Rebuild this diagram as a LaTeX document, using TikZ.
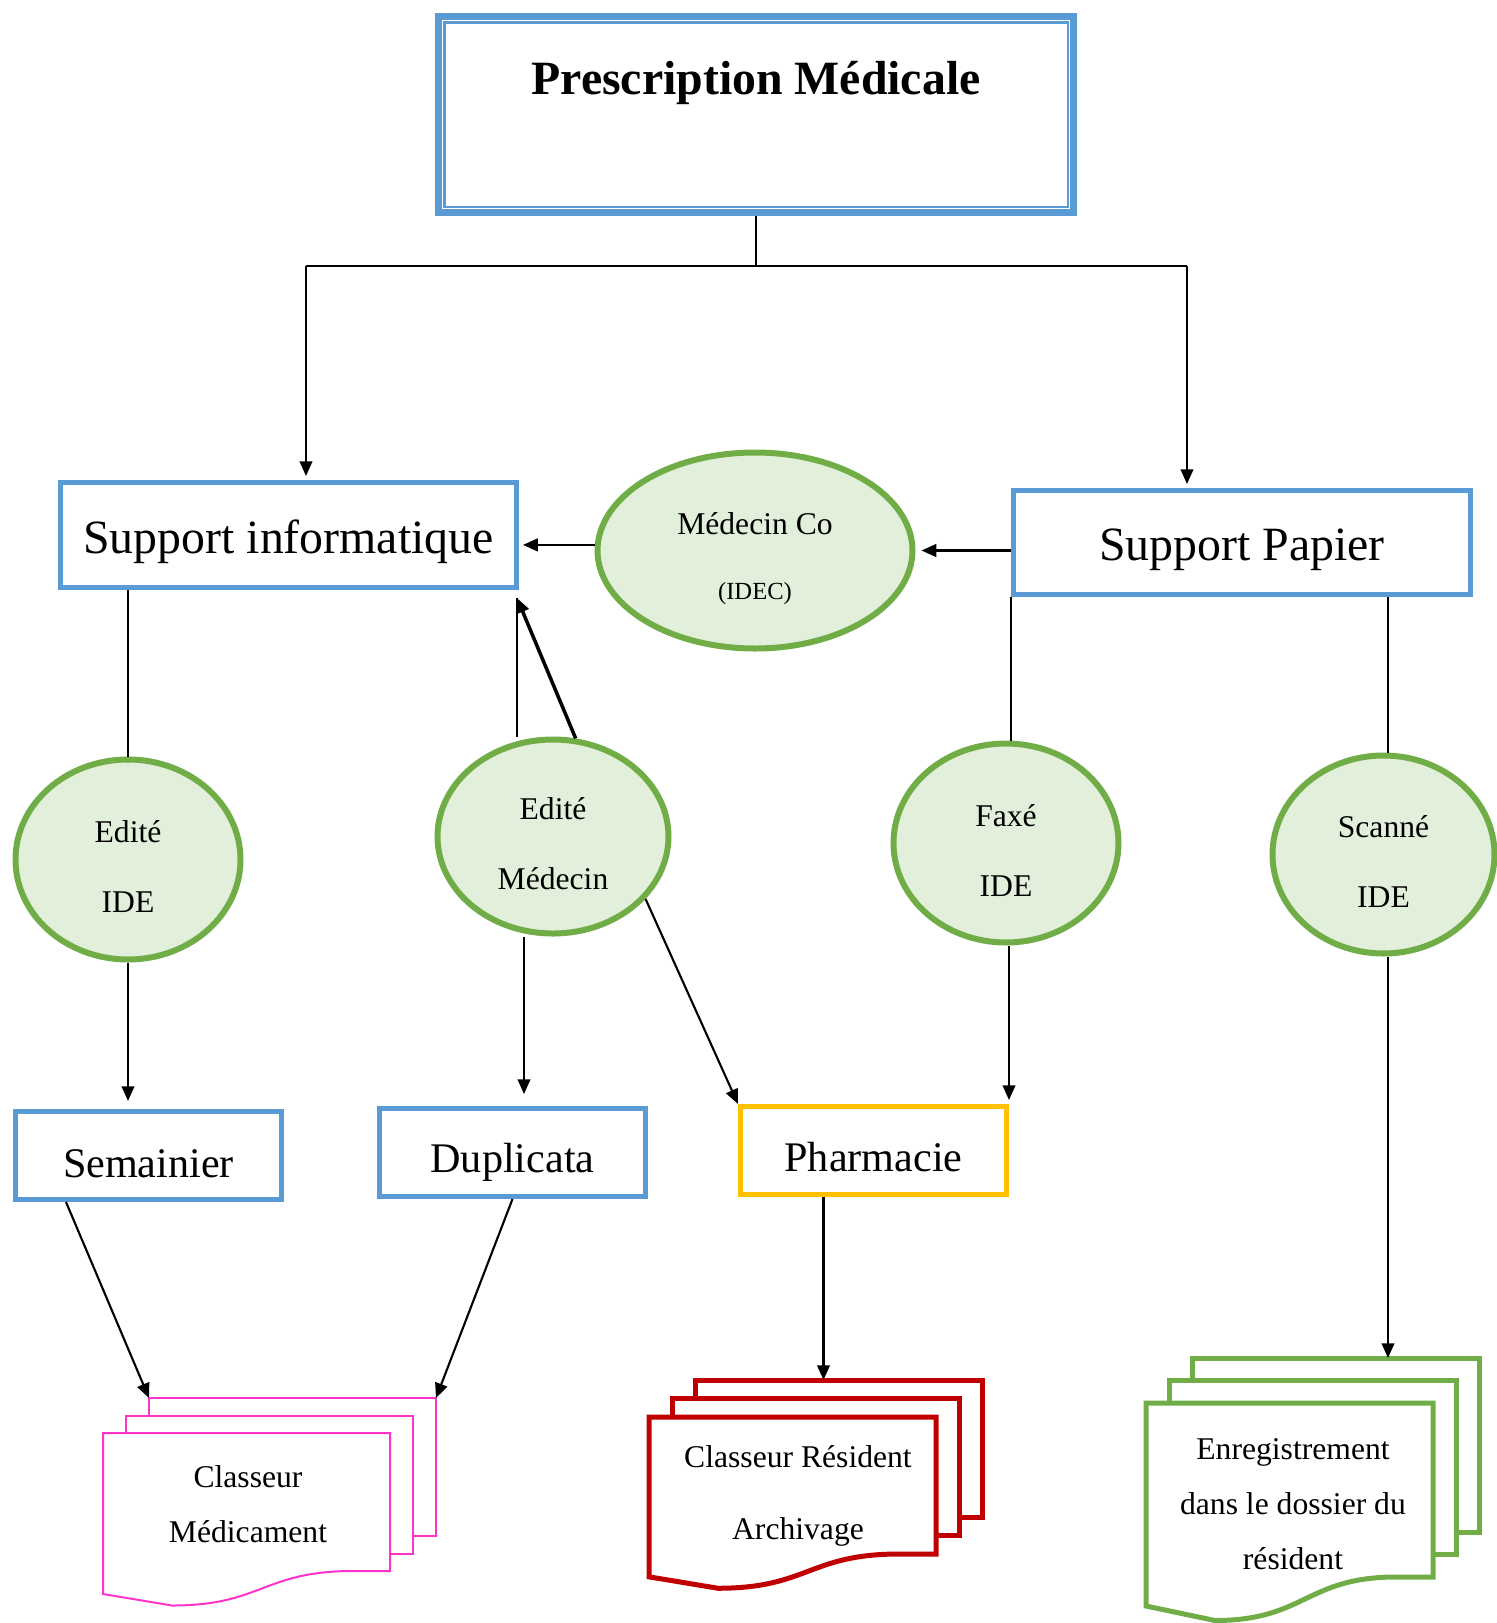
\documentclass[tikz,border=0pt]{standalone}
\usepackage{fontspec}
\setmainfont{Liberation Serif}
\usetikzlibrary{shapes.geometric,arrows.meta}

\definecolor{boxblue}{HTML}{5B9BD5}
\definecolor{ovalgreen}{HTML}{70AD47}
\definecolor{ovalfill}{HTML}{E2EFDA}
\definecolor{pharmgold}{HTML}{FFC000}
\definecolor{docred}{HTML}{C00000}
\definecolor{docpink}{HTML}{FF33CC}

\newcommand{\up}[1]{\rule{0pt}{#1}}

\newcommand{\pagestack}[6]{%
\draw[#2,fill=white] (#3+46,#4-2*#6) coordinate (#1-nw) -- ++(287,0) coordinate (#1-ne) -- ++(0,#5) -- ++(-287,0) -- cycle;
\draw[#2,fill=white] (#3+23,#4-#6) rectangle ++(287,#5);
\draw[#2,fill=white] (#3,#4) -- ++(287,0) -- ++(0,#5) -- ++(-37,0)
  .. controls +(-90,0) and +(90,0) .. (#3+69,#4+#5+#5/4) -- (#3,#4+#5+#5/6) -- cycle;
}

\begin{document}
\begin{tikzpicture}[x=0.1mm, y=-0.1mm, line width=0.6pt,
  >={Triangle[length=4.2pt,width=3.6pt]},
  bluebox/.style={draw=boxblue, line width=0.5mm, inner sep=0pt},
  bigtext/.style={font=\fontsize{13.6}{16}\selectfont},
  smalltext/.style={font=\fontsize{12}{14}\selectfont},
  oval/.style={ellipse, draw=ovalgreen, fill=ovalfill, line width=0.6mm, inner sep=0pt,
    align=center, font=\fontsize{9}{20}\selectfont},
  doctext/.style={align=center, font=\fontsize{9}{15.6}\selectfont}]

\useasboundingbox (0,0) rectangle (1497,1623);

\node[draw=boxblue, line width=0.75mm, minimum width=63.5mm, minimum height=19.6mm] (presc) at (756,114.5) {};
\draw[boxblue, line width=0.25mm] ([shift={(9.5,9.5)}]presc.north west) rectangle ([shift={(-9.5,-9.5)}]presc.south east);
\node[font=\fontsize{13.6}{16}\selectfont\bfseries] (prtitle) at (756,83) {Prescription Médicale};

\node[bluebox, bigtext, minimum width=45.6mm, minimum height=10.5mm] (supinfo) at (288.5,535) {\up{13.3pt}Support informatique};
\node[bluebox, bigtext, minimum width=45.7mm, minimum height=10.4mm] (supap) at (1242,542.5) {\up{13.3pt}Support Papier};

\node[oval, minimum width=31.5mm, minimum height=19.6mm, font=\fontsize{9}{18.5}\selectfont] (medco) at (755,550.5)
  {\up{10.8pt}Médecin Co\\{\fontsize{7}{8}\selectfont (IDEC)}};
\node[oval, minimum width=22.5mm, minimum height=20mm] (edide) at (128,859.5) {\up{10.4pt}Edité\\IDE};
\node[oval, minimum width=23.1mm, minimum height=19.4mm] (edmed) at (553,836.5) {\up{10.4pt}Edité\\Médecin};
\node[oval, minimum width=22.5mm, minimum height=19.9mm] (faxe) at (1006,843) {\up{10.4pt}Faxé\\IDE};
\node[oval, minimum width=22.2mm, minimum height=19.8mm] (scan) at (1383.5,854.5) {\up{10.4pt}Scanné\\IDE};

\node[bluebox, smalltext, minimum width=26.6mm, minimum height=8.8mm] (semain) at (148.5,1155.5) {\up{12.9pt}Semainier};
\node[bluebox, smalltext, minimum width=26.6mm, minimum height=8.8mm] (dupli) at (512.5,1152.5) {\up{14pt}Duplicata};
\node[bluebox, smalltext, draw=pharmgold, minimum width=26.6mm, minimum height=8.8mm] (pharma) at (873.5,1150.5) {\up{11.8pt}Pharmacie};

\pagestack{med}{docpink, line width=0.2mm}{103}{1433}{138}{17.5}
\pagestack{resid}{docred, line width=0.5mm}{649}{1417}{137}{18.5}
\pagestack{enreg}{ovalgreen, line width=0.5mm}{1146}{1403}{174}{22.5}

\node[doctext] (medtext) at (248,1504.5) {Classeur\\Médicament};
\node[doctext, font=\fontsize{9}{20.5}\selectfont] (restext) at (798,1496) {Classeur Résident\\Archivage};
\node[doctext] (enrtext) at (1293,1504) {Enregistrement\\dans le dossier du\\résident};

\coordinate (jl) at (306,266);
\coordinate (jr) at (1187,266);
\coordinate (sitip) at (517,598);

\draw (presc.south) -- (presc.south |- jl);
\draw (jl) -- (jr);
\draw[->, shorten >=0.4mm] (jl) -- (jl |- supinfo.north);
\draw[->, shorten >=0.4mm] (jr) -- (jr |- supap.north);

\draw[->, shorten >=0.6mm] (supap.west |- medco.east) -- (medco.east);
\draw[->, shorten >=0.4mm] (medco.178) -- (medco.178 -| supinfo.east);

\draw (edide.north) -- (edide.north |- supinfo.south);
\draw[->, shorten >=0.8mm] (edide.south) -- (edide.south |- semain.north);

\draw (edmed.north -| sitip) -- (sitip);
\draw[->, line width=1pt] (edmed.77) -- (sitip);
\draw[->, shorten >=1.2mm] ([xshift=-2.9mm]edmed.south) -- ([xshift=-2.9mm]edmed.south |- dupli.north);
\draw[->] (edmed.-34) -- (pharma.north west);

\draw ([xshift=0.5mm]faxe.north) -- ([xshift=0.5mm]faxe.north |- supap.south);
\draw[->, shorten >=0.4mm] ([xshift=0.3mm]faxe.south) -- ([xshift=0.3mm]faxe.south |- pharma.north);

\draw ([xshift=0.45mm]scan.north) -- ([xshift=0.45mm]scan.north |- supap.south);
\draw[->] ([xshift=0.45mm]scan.south) -- ([xshift=0.45mm]scan.south |- enreg-nw);

\draw[->] ([xshift=5.3mm]semain.south west) -- (med-nw);
\draw[->] (dupli.south) -- (med-ne);
\draw[->] ([xshift=-5mm]pharma.south) -- ([xshift=-5mm]pharma.south |- resid-nw);

\end{tikzpicture}
\end{document}
